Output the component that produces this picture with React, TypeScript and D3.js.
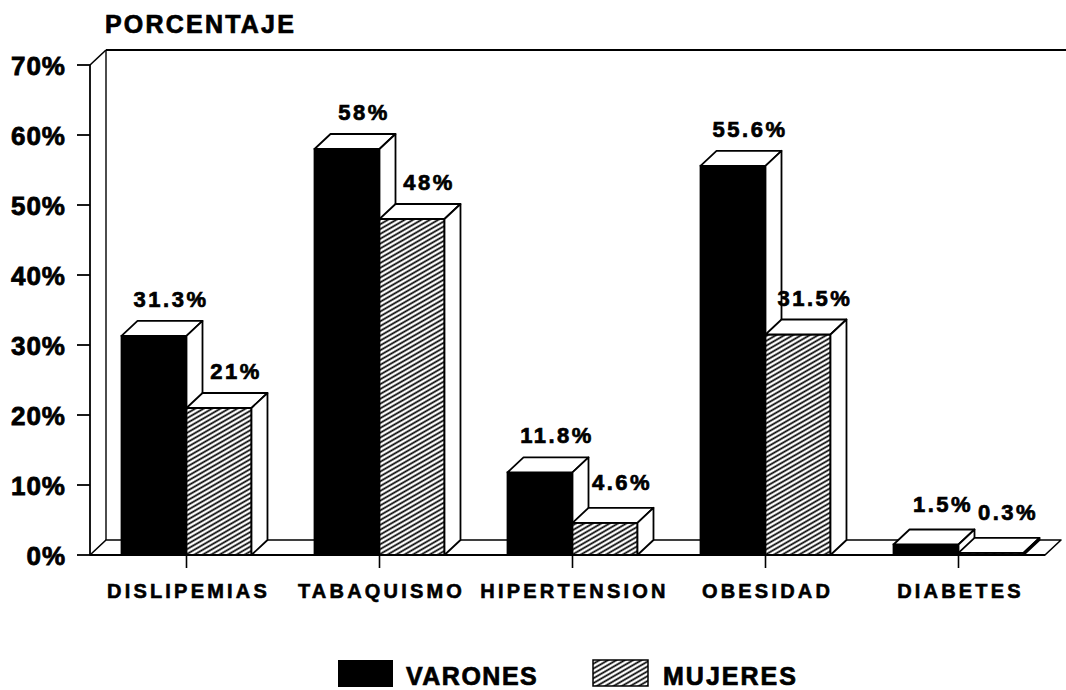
import React from "react";
import * as d3 from "d3";

const categories = ["DISLIPEMIAS", "TABAQUISMO", "HIPERTENSION", "OBESIDAD", "DIABETES"];
const series = ["VARONES", "MUJERES"];
const varones = [31.3, 58, 11.8, 55.6, 1.5];
const mujeres = [21, 48, 4.6, 31.5, 0.3];
const valueLabels = [
  ["31.3%", "58%", "11.8%", "55.6%", "1.5%"],
  ["21%", "48%", "4.6%", "31.5%", "0.3%"],
];
const yTicks = [0, 10, 20, 30, 40, 50, 60, 70];
const yTitle = "PORCENTAJE";

const W = 1066;
const H = 690;
const DX = 16;
const DY = 15;
const FONT = "'Liberation Sans', Arial, Helvetica, sans-serif";

export default function App() {
  const x = d3.scaleBand<string>().domain(categories).range([90, 1055]).padding(0);
  const xs = d3
    .scaleBand<string>()
    .domain(series)
    .range([0, x.bandwidth()])
    .paddingInner(0)
    .paddingOuter(0.485);
  const y = d3.scaleLinear().domain([0, 70]).range([555, 65]);
  const y0 = y(0);
  const yTop = y(70);
  const leftX = 90;

  const data = [varones, mujeres];
  const fills = ["#000", "url(#hatch)"];

  const bars: React.ReactNode[] = [];
  categories.forEach((c, ci) => {
    series.forEach((s, si) => {
      const v = data[si][ci];
      const x0 = (x(c) as number) + (xs(s) as number);
      const x1 = x0 + xs.bandwidth();
      const yt = y(v);
      const top = `${x0},${yt} ${x0 + DX},${yt - DY} ${x1 + DX},${yt - DY} ${x1},${yt}`;
      const side = `${x1},${yt} ${x1 + DX},${yt - DY} ${x1 + DX},${y0 - DY} ${x1},${y0}`;
      bars.push(
        <g key={`${c}-${s}`}>
          <rect x={x0} y={yt} width={x1 - x0} height={y0 - yt} fill={fills[si]} stroke="#000" strokeWidth={1.8} />
          <polygon points={top} fill="#fff" stroke="#000" strokeWidth={1.8} strokeLinejoin="round" />
          <polygon points={side} fill="#fff" stroke="#000" strokeWidth={1.8} strokeLinejoin="round" />
        </g>
      );
    });
  });

  const labels: React.ReactNode[] = [];
  categories.forEach((c, ci) => {
    series.forEach((s, si) => {
      const v = data[si][ci];
      const cx = (x(c) as number) + (xs(s) as number) + xs.bandwidth() / 2 + DX + 1;
      const by = y(v) - DY - (v < 5 ? 18 : 14);
      labels.push(
        <text
          key={`l-${c}-${s}`}
          x={cx}
          y={by}
          textAnchor="middle"
          fontFamily={FONT}
          fontWeight="bold"
          fontSize={22}
          letterSpacing={2.5}
          fill="#000"
          stroke="#000"
          strokeWidth={0.7}
        >
          {valueLabels[si][ci]}
        </text>
      );
    });
  });

  const floorRight = 1045;

  return (
    <svg width={W} height={H} style={{ position: "absolute", left: 0, top: 0, background: "#fff" }}>
      <defs>
        <pattern id="hatch" patternUnits="userSpaceOnUse" width={8} height={4.2} patternTransform="rotate(-30)">
          <rect width={8} height={4.2} fill="#fff" />
          <line x1={0} y1={2.1} x2={8} y2={2.1} stroke="#000" strokeWidth={1.7} />
        </pattern>
      </defs>

      {/* title */}
      <text
        x={105}
        y={33}
        fontFamily={FONT}
        fontWeight="bold"
        fontSize={25}
        letterSpacing={2.2}
        fill="#000"
        stroke="#000"
        strokeWidth={0.7}
      >
        {yTitle}
      </text>

      {/* back wall */}
      <line x1={leftX + DX} y1={yTop - DY} x2={W} y2={yTop - DY} stroke="#000" strokeWidth={2} />
      <line x1={leftX + DX} y1={yTop - DY} x2={leftX + DX} y2={y0 - DY} stroke="#000" strokeWidth={1.4} />
      <line x1={leftX} y1={yTop} x2={leftX + DX} y2={yTop - DY} stroke="#000" strokeWidth={1.6} />

      {/* floor */}
      <polygon
        points={`${leftX},${y0} ${leftX + DX},${y0 - DY} ${floorRight + DX},${y0 - DY} ${floorRight},${y0}`}
        fill="#fff"
        stroke="#000"
        strokeWidth={1.6}
        strokeLinejoin="round"
      />

      {/* y axis */}
      <line x1={leftX} y1={yTop} x2={leftX} y2={y0} stroke="#000" strokeWidth={1.8} />
      {yTicks.map((t) => (
        <g key={`yt-${t}`}>
          <line x1={77} y1={y(t)} x2={leftX} y2={y(t)} stroke="#000" strokeWidth={1.8} />
          <text
            x={66}
            y={y(t) + 9.5}
            textAnchor="end"
            fontFamily={FONT}
            fontWeight="bold"
            fontSize={26}
            letterSpacing={1}
            fill="#000"
            stroke="#000"
            strokeWidth={0.8}
          >
            {`${t}%`}
          </text>
        </g>
      ))}

      {bars}
      {labels}

      {/* front baseline */}
      <line x1={leftX} y1={y0} x2={floorRight} y2={y0} stroke="#000" strokeWidth={2} />

      {/* category ticks + labels */}
      {categories.map((c) => {
        const cx = (x(c) as number) + x.bandwidth() / 2;
        return (
          <g key={`c-${c}`}>
            <line x1={cx} y1={y0} x2={cx} y2={y0 + 13} stroke="#000" strokeWidth={1.6} />
            <text
              x={cx + 2}
              y={598}
              textAnchor="middle"
              fontFamily={FONT}
              fontWeight="bold"
              fontSize={20}
              letterSpacing={3.2}
              fill="#000"
              stroke="#000"
              strokeWidth={0.6}
            >
              {c}
            </text>
          </g>
        );
      })}

      {/* legend */}
      <rect x={338} y={660} width={55} height={27} fill="#000" />
      <text
        x={406}
        y={685}
        fontFamily={FONT}
        fontWeight="bold"
        fontSize={25}
        letterSpacing={1.5}
        fill="#000"
        stroke="#000"
        strokeWidth={0.7}
      >
        {series[0]}
      </text>
      <rect x={593} y={660} width={55} height={26} fill="url(#hatch)" stroke="#000" strokeWidth={1.5} />
      <text
        x={663}
        y={685}
        fontFamily={FONT}
        fontWeight="bold"
        fontSize={25}
        letterSpacing={2}
        fill="#000"
        stroke="#000"
        strokeWidth={0.7}
      >
        {series[1]}
      </text>
    </svg>
  );
}
